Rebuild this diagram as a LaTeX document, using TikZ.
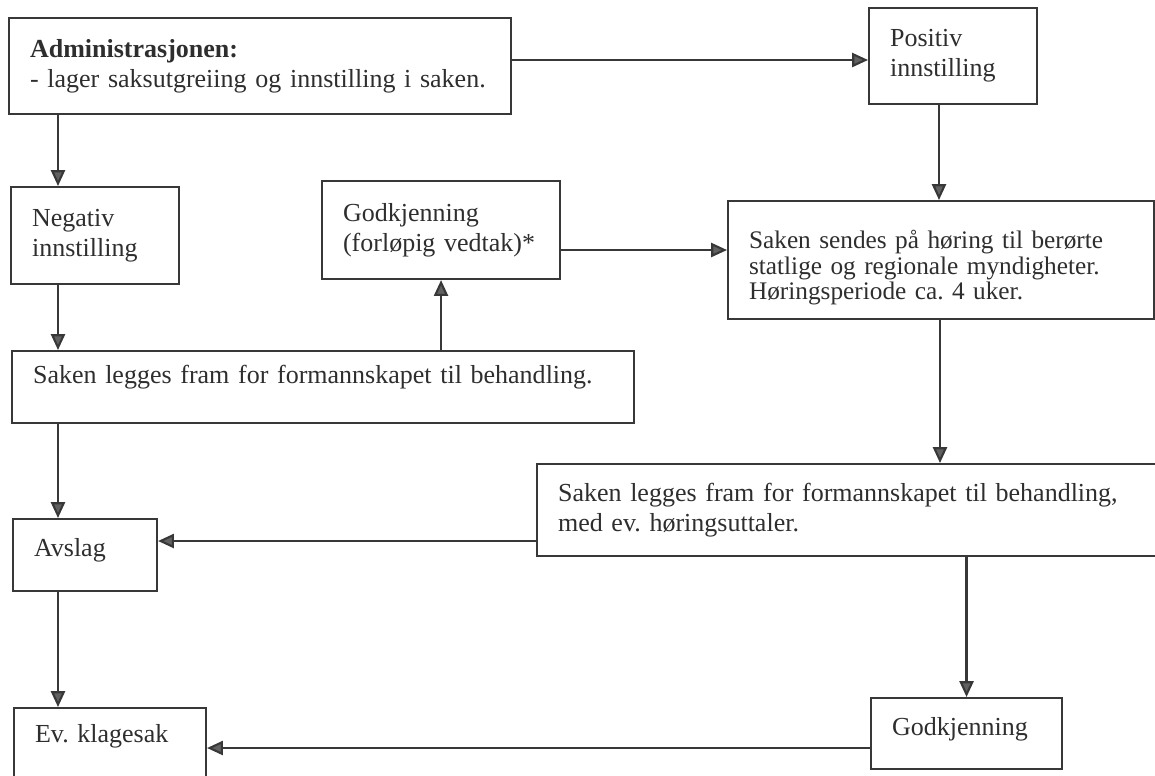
\documentclass[tikz,border=0pt]{standalone}
\usepackage{fontspec}
\setmainfont{Liberation Serif}
\usepackage{tikz}
\usetikzlibrary{arrows.meta,calc,positioning}
\frenchspacing
\hyphenpenalty=10000

\begin{document}
\begin{tikzpicture}[x=0.02cm,y=-0.02cm,
		font=\fontsize{14.8}{17.2}\selectfont,
		boks/.style={draw=black!78, line width=1.2pt, text=black!82, align=left, anchor=north west, inner xsep=0.42cm, inner ysep=0pt},
		pil/.style={draw=black!78, line width=1.2pt, -{Triangle[length=9pt,width=8pt,fill=black!62]}}]
	\useasboundingbox (0,0) rectangle (1155,775);
	\node[boks, text width=9.20cm, minimum height=1.92cm] (admin) at (8,17) {\textbf{Administrasjonen:}\\- lager saksutgreiing og innstilling i saken.};
	\node[boks, text width=2.52cm, minimum height=1.92cm] (positiv) at (868,7) {Positiv\\innstilling};
	\node[boks, text width=2.52cm, minimum height=1.94cm] (negativ) at (10,186) {Negativ\\innstilling};
	\node[boks, text width=3.92cm, minimum height=1.96cm] (godkj1) at (321,180) {Godkjenning\\(forløpig vedtak)*};
	\node[boks, text width=7.68cm, minimum height=2.36cm, font=\fontsize{14.4}{14.4}\selectfont, text height=0.67cm] (hoering) at (727,200) {Saken sendes på høring til berørte\\statlige og regionale myndigheter.\\Høringsperiode ca. 4 uker.};
	\node[boks, text width=11.60cm, minimum height=1.44cm, text depth=0.5cm] (fram1) at (11,350) {Saken legges fram for formannskapet til behandling.};
	\node[boks, text width=11.76cm, minimum height=1.84cm] (fram2) at (536,463) {Saken legges fram for formannskapet til behandling,\\med ev. høringsuttaler.};
	\node[boks, text width=2.04cm, minimum height=1.44cm, text depth=0.3cm] (avslag) at (12,518) {Avslag};
	\node[boks, text width=3.00cm, minimum height=1.44cm, text depth=0.42cm] (klage) at (13,707) {Ev. klagesak};
	\node[boks, text width=2.98cm, minimum height=1.42cm, text depth=0.3cm] (godkj2) at (870,697) {Godkjenning};

	\draw[pil] (admin.east |- 0,60) to (positiv.west |- 0,60);
	\draw[pil] (939,0 |- positiv.south) to (939,0 |- hoering.north);
	\draw[pil] (58,0 |- admin.south) to (58,0 |- negativ.north);
	\draw[pil] (58,0 |- negativ.south) to (58,0 |- fram1.north);
	\draw[pil] (fram1.north -| godkj1.south) to (godkj1.south);
	\draw[pil] (godkj1.east |- 0,250) to (hoering.west |- 0,250);
	\draw[pil] (940,0 |- hoering.south) to (940,0 |- fram2.north);
	\draw[pil] (58,0 |- fram1.south) to (58,0 |- avslag.north);
	\draw[pil] (fram2.west |- 0,541) to (avslag.east |- 0,541);
	\draw[pil] (58,0 |- avslag.south) to (58,0 |- klage.north);
	\draw[pil] (fram2.south -| godkj2.north) to (godkj2.north);
	\draw[pil] (godkj2.west |- 0,748) to (klage.east |- 0,748);
\end{tikzpicture}
\end{document}
